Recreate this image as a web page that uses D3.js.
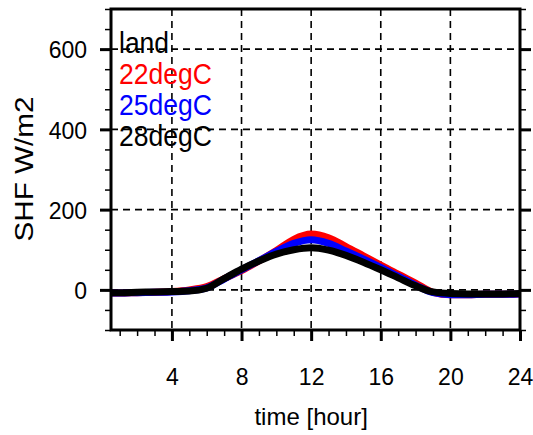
<!DOCTYPE html>
<html>
<head>
<meta charset="utf-8">
<style>
  body { margin: 0; background: #fff; }
  svg { display: block; font-family: "Liberation Sans", Arial, sans-serif; }
</style>
</head>
<body>
<div id="chart"></div>
<script src="https://d3js.org/d3.v7.min.js"></script>
<script>
// SHF diurnal cycle, land vs. three SST runs

var hours = [0.5, 1, 2, 3, 4, 5, 6, 7, 8, 9, 10, 11, 12, 13, 14, 15, 16, 17, 18, 19, 20, 21, 22, 23, 24];

var shf22 = [-8, -8, -7, -6, -4, 0, 8, 28, 48, 72, 98, 126, 139, 130, 108, 85, 62, 39, 17, -6, -12, -12, -11, -11, -10];
var shf25 = [-8, -8, -7, -6, -5, -2, 5, 27, 50, 73, 96, 116, 125, 116, 97, 77, 56, 34, 12, -7, -12, -12, -11, -11, -10];
var shf28 = [-7, -7, -6, -5, -4, -3, 4, 28, 52, 72, 89, 100, 105, 99, 86, 69, 50, 30, 10, -5, -9, -10, -10, -10, -9];

var seriesNames = ["22degC", "25degC", "28degC"];
var seriesColors = ["#ff0000", "#0000ff", "#000000"];
var seriesValues = [shf22, shf25, shf28];

var xTicks = [4, 8, 12, 16, 20, 24];
var yTicks = [0, 200, 400, 600];

var width = 533, height = 435;
var plotL = 111, plotR = 520, plotT = 9, plotB = 330;

var x = d3.scaleLinear().domain([0.5, 24]).range([plotL, plotR]);
var y = d3.scaleLinear().domain([-100, 700]).range([plotB, plotT]);

var svg = d3.select("#chart").append("svg")
    .attr("width", width)
    .attr("height", height);

svg.append("defs").append("clipPath").attr("id", "plotclip")
    .append("rect")
    .attr("x", plotL).attr("y", plotT)
    .attr("width", plotR - plotL).attr("height", plotB - plotT);

// dashed grid
var grid = svg.append("g").attr("stroke", "#000").attr("stroke-width", 1.6)
    .attr("stroke-dasharray", "7,5");
grid.selectAll("line.v")
    .data(xTicks.filter(function(d) { return d < 24; }))
    .enter().append("line")
    .attr("x1", d => x(d)).attr("x2", d => x(d))
    .attr("y1", plotT).attr("y2", plotB);
grid.selectAll("line.h")
    .data(yTicks)
    .enter().append("line")
    .attr("x1", plotL).attr("x2", plotR)
    .attr("y1", d => y(d)).attr("y2", d => y(d));

// curves
var line = d3.line()
    .x(function(d, i) { return x(hours[i]); })
    .y(function(d) { return y(d); })
    .curve(d3.curveMonotoneX);

svg.append("g").attr("clip-path", "url(#plotclip)")
    .selectAll("path")
    .data(seriesValues)
    .enter().append("path")
    .attr("d", line)
    .attr("fill", "none")
    .attr("stroke", (d, i) => seriesColors[i])
    .attr("stroke-width", 7)
    .attr("stroke-linejoin", "round");

// axes: minor then major ticks
function styleAxis(g, w) {
    g.select(".domain").remove();
    g.selectAll(".tick line").attr("stroke", "#000").attr("stroke-width", w);
}

var minorX = d3.range(1, 25);
var minorY = d3.range(-100, 701, 50);

svg.append("g").attr("transform", "translate(0," + plotB + ")")
    .call(d3.axisBottom(x).tickValues(minorX).tickSize(6).tickFormat(""))
    .call(styleAxis, 1.5);
svg.append("g").attr("transform", "translate(0," + plotB + ")")
    .call(d3.axisBottom(x).tickValues(xTicks).tickSize(11).tickFormat(d3.format("d")))
    .call(styleAxis, 3)
    .call(function(g) {
        g.selectAll(".tick text").attr("fill", "#000").attr("font-size", 23)
            .attr("dy", 0).attr("y", 55);
    });

svg.append("g").attr("transform", "translate(" + plotL + ",0)")
    .call(d3.axisLeft(y).tickValues(minorY).tickSize(6).tickFormat(""))
    .call(styleAxis, 1.5);
svg.append("g").attr("transform", "translate(" + plotL + ",0)")
    .call(d3.axisLeft(y).tickValues(yTicks).tickSize(11).tickPadding(13).tickFormat(d3.format("d")))
    .call(styleAxis, 3)
    .call(function(g) {
        g.selectAll(".tick text").attr("fill", "#000").attr("font-size", 23).attr("dy", "0.38em");
    });

svg.append("g").attr("transform", "translate(" + plotR + ",0)")
    .call(d3.axisRight(y).tickValues(minorY).tickSize(6).tickFormat(""))
    .call(styleAxis, 1.5);
svg.append("g").attr("transform", "translate(" + plotR + ",0)")
    .call(d3.axisRight(y).tickValues(yTicks).tickSize(11).tickFormat(""))
    .call(styleAxis, 3);

// frame
svg.append("rect")
    .attr("x", plotL).attr("y", plotT)
    .attr("width", plotR - plotL).attr("height", plotB - plotT)
    .attr("fill", "none").attr("stroke", "#000").attr("stroke-width", 3);

// axis titles
svg.append("text")
    .attr("x", x(12)).attr("y", 425)
    .attr("text-anchor", "middle")
    .attr("font-size", 24)
    .text("time [hour]");

svg.append("text")
    .attr("transform", "translate(33,169) rotate(-90)")
    .attr("text-anchor", "middle")
    .attr("font-size", 25)
    .attr("textLength", 145)
    .attr("lengthAdjust", "spacingAndGlyphs")
    .text("SHF W/m2");

// legend text
var legendLabels = ["land"].concat(seriesNames);
var legendColors = ["#000"].concat(seriesColors);
svg.append("g").selectAll("text")
    .data(legendLabels)
    .enter().append("text")
    .attr("x", 119)
    .attr("y", (d, i) => 53 + i * 31)
    .attr("fill", (d, i) => legendColors[i])
    .attr("font-size", 30)
    .attr("textLength", (d, i) => i === 0 ? 50 : 93)
    .attr("lengthAdjust", "spacingAndGlyphs")
    .text(d => d);
</script>
</body>
</html>
